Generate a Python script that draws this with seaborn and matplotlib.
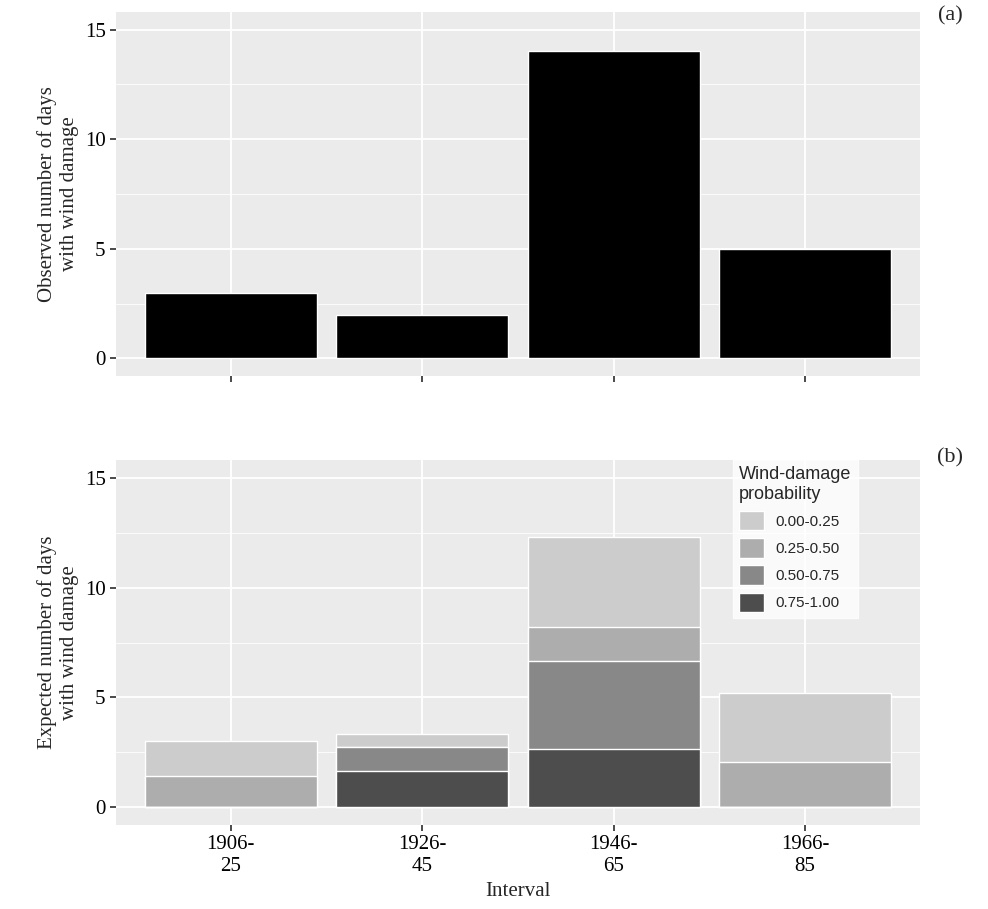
import matplotlib
matplotlib.use("Agg")
import matplotlib.pyplot as plt
import numpy as np
import pandas as pd
import seaborn as sns
from matplotlib.patches import Patch

intervals = ["1906-\n25", "1926-\n45", "1946-\n65", "1966-\n85"]
observed = [3, 2, 14, 5]
prob_classes = ["0.00-0.25", "0.25-0.50", "0.50-0.75", "0.75-1.00"]
# expected days per probability class (rows = class, cols = interval)
exp_000_025 = [1.55, 0.6, 4.1, 3.15]
exp_025_050 = [1.45, 0.0, 1.55, 2.05]
exp_050_075 = [0.0, 1.1, 4.0, 0.0]
exp_075_100 = [0.0, 1.65, 2.65, 0.0]
class_colours = ["#cccccc", "#adadad", "#888888", "#4d4d4d"]

sns.set_theme(style="darkgrid", rc={
    "axes.facecolor": "#ebebeb", "grid.color": "white",
    "axes.edgecolor": "#ebebeb",
})
plt.rcParams["font.family"] = ["Liberation Serif", "DejaVu Serif"]

fig = plt.figure(figsize=(9.88, 9.09), dpi=100)
ax1 = fig.add_axes([116 / 988, 1 - 376 / 909, 804 / 988, 364 / 909])
ax2 = fig.add_axes([116 / 988, 1 - 825 / 909, 804 / 988, 365 / 909])


def style(ax):
    ax.set_xlim(-0.6, 3.6)
    ax.set_ylim(-0.8, 15.8)
    ax.set_yticks([0, 5, 10, 15])
    ax.set_yticks([2.5, 7.5, 12.5], minor=True)
    ax.grid(True, which="major", color="white", linewidth=1.3)
    ax.grid(True, which="minor", axis="y", color="white", linewidth=0.6)
    ax.tick_params(axis="both", which="major", length=4, color="#333333",
                   labelsize=15, labelcolor="black", bottom=True, left=True)
    ax.tick_params(which="minor", length=0)
    ax.set_axisbelow(True)
    for s in ax.spines.values():
        s.set_visible(False)


top_df = pd.DataFrame({"interval": intervals, "days": observed})
sns.barplot(data=top_df, x="interval", y="days", color="black", width=0.9,
            saturation=1, ax=ax1)
style(ax1)
ax1.set_xticklabels([])
ax1.set_xlabel("")
ax1.set_ylabel("Observed number of days\nwith wind damage", fontsize=15)

layers = [exp_075_100, exp_050_075, exp_025_050, exp_000_025]
cum = np.cumsum(np.array(layers), axis=0)
# draw cumulative totals from largest to smallest so each layer shows its share
for level, colour in zip(cum[::-1], class_colours):
    df = pd.DataFrame({"interval": intervals, "days": level})
    sns.barplot(data=df, x="interval", y="days", color=colour, width=0.9,
                saturation=1, ax=ax2)
style(ax2)
ax2.set_xlabel("Interval", fontsize=15)
ax2.set_ylabel("Expected number of days\nwith wind damage", fontsize=15)

handles = [Patch(facecolor=c, label=l) for c, l in zip(class_colours, prob_classes)]
leg = ax2.legend(handles=handles, title="Wind-damage\nprobability",
                 loc="upper left", bbox_to_anchor=(0.758, 1.02), frameon=True,
                 facecolor="white", edgecolor="white", fancybox=False,
                 prop={"family": "Liberation Sans", "size": 11},
                 handlelength=1.6, handleheight=1.6, labelspacing=0.5)
leg.get_title().set_fontfamily("Liberation Sans")
leg.get_title().set_fontsize(13)
leg._legend_box.align = "left"

fig.text(950 / 988, 1 - 16 / 909, "(a)", fontsize=16, ha="center", va="center")
fig.text(950 / 988, 1 - 458 / 909, "(b)", fontsize=16, ha="center", va="center")

fig.savefig("out.png", dpi=100, facecolor="white")
